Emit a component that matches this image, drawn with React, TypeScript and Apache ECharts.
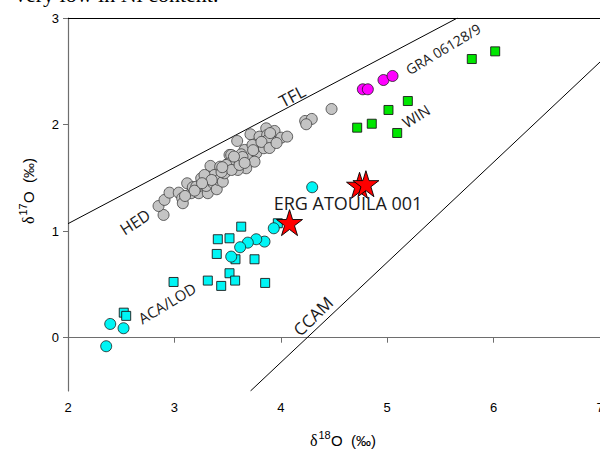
import React, { useEffect, useRef } from 'react';
import * as echarts from 'echarts';

const xTickValues = [2, 3, 4, 5, 6, 7];
const yTickValues = [0, 1, 2, 3];

const tflLine: [number, number][] = [[2, 1.07], [5.66, 3]];
const ccamLine: [number, number][] = [[3.715, -0.5], [7, 2.587]];

const hedPoints: [number, number][] = [
  [2.898, 1.152], [2.851, 1.236], [2.907, 1.293], [2.954, 1.361], [3.041, 1.361], [3.073, 1.309],
  [3.079, 1.262], [3.12, 1.449], [3.158, 1.356], [3.173, 1.412], [3.229, 1.356], [3.236, 1.424],
  [3.252, 1.496], [3.314, 1.356], [3.299, 1.424], [3.33, 1.527], [3.339, 1.612], [3.367, 1.449],
  [3.398, 1.393], [3.377, 1.527], [3.417, 1.48], [3.43, 1.605], [3.455, 1.464], [3.471, 1.543],
  [3.502, 1.63], [3.518, 1.715], [3.565, 1.652], [3.283, 1.527], [3.205, 1.417],
  [3.59, 1.846], [3.715, 1.909], [3.8, 1.887], [3.863, 1.965], [3.941, 1.94], [3.925, 1.84],
  [4.004, 1.877], [4.06, 1.887], [3.872, 1.902], [3.784, 1.809], [3.769, 1.731], [3.706, 1.762],
  [3.84, 1.778], [3.684, 1.684], [3.659, 1.762], [3.628, 1.721], [3.753, 1.652], [3.675, 1.59],
  [3.59, 1.652], [3.534, 1.715], [3.518, 1.637], [3.487, 1.621], [3.596, 1.574], [4.229, 2.034],
  [4.291, 2.053], [4.239, 2.003], [3.878, 1.856], [4.477, 2.146],
  [3.537, 1.574], [3.612, 1.621], [3.443, 1.555], [3.64, 1.696], [3.734, 1.809], [3.818, 1.837],
  [3.894, 1.78], [3.96, 1.827], [3.19, 1.38], [3.35, 1.48], [3.56, 1.7], [3.66, 1.64],
  [3.26, 1.45], [3.1, 1.33], [3.74, 1.76], [3.9, 1.92], [3.45, 1.6],
];

const acaLodCircles: [number, number][] = [
  [3.934, 1.027], [3.847, 0.902], [3.769, 0.924], [3.69, 0.892], [3.618, 0.849], [3.534, 0.761],
  [2.397, 0.129], [2.522, 0.089], [2.359, -0.08], [4.295, 1.412],
];

const acaLodSquares: [number, number][] = [
  [3.628, 1.042], [3.408, 0.924], [3.518, 0.933], [3.398, 0.786], [3.574, 0.736], [3.753, 0.736],
  [3.518, 0.605], [3.571, 0.536], [3.314, 0.536], [3.44, 0.486], [3.853, 0.514], [2.992, 0.523],
  [2.524, 0.235], [2.547, 0.205], [3.972, 1.074],
];

const winSquares: [number, number][] = [
  [5.795, 2.615], [6.015, 2.687], [5.194, 2.221], [5.012, 2.137], [4.855, 2.008], [4.718, 1.971],
  [5.094, 1.921],
];

const graCircles: [number, number][] = [
  [4.771, 2.331], [4.818, 2.331], [4.965, 2.418], [5.05, 2.456],
];

const ergStars: [number, number][] = [
  [4.74, 1.43], [4.8, 1.445], [4.082, 1.08],
];

const STAR = 'path://M50,0 L61.2,34.5 L97.6,34.5 L68.2,55.9 L79.4,90.5 L50,69.1 L20.6,90.5 L31.8,55.9 L2.4,34.5 L38.8,34.5 Z';
const SANS = '"Liberation Sans", Arial, sans-serif';
const LABEL_FONT = '"Open Sans", "Noto Sans", sans-serif';

const deg = (d: number) => (d * Math.PI) / 180;

function labelText(text: string, x: number, y: number, rot: number, size: number) {
  return {
    type: 'text',
    x,
    y,
    rotation: deg(rot),
    z: 100,
    style: {
      text,
      fontSize: size,
      fontFamily: LABEL_FONT,
      fill: '#1a1a1a',
      align: 'center',
      verticalAlign: 'middle',
    },
  };
}

function titleGroup(sup: string, x: number, y: number, rotation: number) {
  return {
    type: 'group',
    x,
    y,
    rotation,
    children: [
      { type: 'text', x: 0, y: 0, style: { text: 'δ', fontSize: 16, fontFamily: '"Liberation Serif", serif', fill: '#000', verticalAlign: 'middle' } },
      { type: 'text', x: 8.5, y: -5.5, style: { text: sup, fontSize: 11, fontFamily: SANS, fill: '#000', verticalAlign: 'middle' } },
      { type: 'text', x: 21, y: 0, style: { text: 'O  (‰)', fontSize: 15, fontFamily: SANS, fill: '#000', verticalAlign: 'middle' } },
    ],
  };
}

export default function App() {
  const ref = useRef<HTMLDivElement>(null);
  useEffect(() => {
    const chart = echarts.init(ref.current!, null, { renderer: 'svg' });
    const scatterBase = { type: 'scatter', z: 5 };
    chart.setOption({
      animation: false,
      backgroundColor: '#fff',
      grid: { left: 68, right: 0, top: 18, bottom: 61, containLabel: false, outerBoundsMode: 'none' },
      xAxis: [
        {
          type: 'value',
          min: 2,
          max: 7,
          interval: 1,
          axisLine: { show: true, lineStyle: { color: '#6e6e6e', width: 1.2 } },
          axisTick: { show: true, length: 5, lineStyle: { color: '#6e6e6e' }, customValues: xTickValues },
          axisLabel: { color: '#000', fontSize: 13, fontFamily: SANS, margin: 10, customValues: xTickValues, hideOverlap: false },
          splitLine: { show: false },
        },
        {
          type: 'value',
          position: 'top',
          min: 2,
          max: 7,
          axisLine: { show: true, onZero: false, lineStyle: { color: '#000', width: 1.2 } },
          axisTick: { show: false },
          axisLabel: { show: false },
          splitLine: { show: false },
        },
      ],
      yAxis: {
        type: 'value',
        min: -0.5,
        max: 3,
        axisLine: { show: true, onZero: false, lineStyle: { color: '#6e6e6e', width: 1.2 } },
        axisTick: { show: true, length: 5, lineStyle: { color: '#6e6e6e' }, customValues: yTickValues },
        axisLabel: { color: '#000', fontSize: 13, fontFamily: SANS, margin: 9, customValues: yTickValues },
        splitLine: { show: false },
      },
      series: [
        { type: 'line', data: tflLine, symbol: 'none', lineStyle: { color: '#000', width: 1 }, z: 2, silent: true },
        { type: 'line', data: ccamLine, symbol: 'none', lineStyle: { color: '#000', width: 1 }, z: 2, silent: true },
        { ...scatterBase, data: hedPoints, symbol: 'circle', symbolSize: 11, itemStyle: { color: '#c4c4c4', borderColor: '#3c3c3c', borderWidth: 0.8, opacity: 1 } },
        { ...scatterBase, data: acaLodSquares, symbol: 'rect', symbolSize: 9, itemStyle: { color: '#00f5f5', borderColor: '#1a1a1a', borderWidth: 0.9, opacity: 1 } },
        { ...scatterBase, data: acaLodCircles, symbol: 'circle', symbolSize: 11, itemStyle: { color: '#00f5f5', borderColor: '#1a1a1a', borderWidth: 0.8, opacity: 1 } },
        { ...scatterBase, data: winSquares, symbol: 'rect', symbolSize: 9, itemStyle: { color: '#00e600', borderColor: '#1a1a1a', borderWidth: 0.9, opacity: 1 } },
        { ...scatterBase, data: graCircles, symbol: 'circle', symbolSize: 11, itemStyle: { color: '#ff00ff', borderColor: '#1a1a1a', borderWidth: 0.8, opacity: 1 } },
        { ...scatterBase, z: 6, data: ergStars, symbol: STAR, symbolSize: 26, itemStyle: { color: '#ff0000', borderColor: '#000', borderWidth: 0.9, opacity: 1 } },
      ],
      graphic: [
        { type: 'text', x: 15, y: -6, style: { text: 'very low in Ni content.', fontSize: 22, fontFamily: '"Liberation Serif", serif', fill: '#000', verticalAlign: 'middle' } },
        labelText('TFL', 292, 96, 28, 17),
        labelText('HED', 135, 222, 33, 16),
        labelText('ACA/LOD', 167, 303, 31, 15),
        labelText('GRA 06128/9', 443, 49, 31, 14),
        labelText('WIN', 416, 116, 32, 15),
        labelText('CCAM', 313, 316, 44, 17),
        labelText('ERG ATOUILA 001', 348, 203, 0, 18),
        titleGroup('18', 310, 440, 0),
        titleGroup('17', 28, 224, Math.PI / 2),
      ],
    });
    return () => chart.dispose();
  }, []);
  return <div ref={ref} style={{ position: 'absolute', left: 0, top: 0, width: 600, height: 452 }} />;
}
